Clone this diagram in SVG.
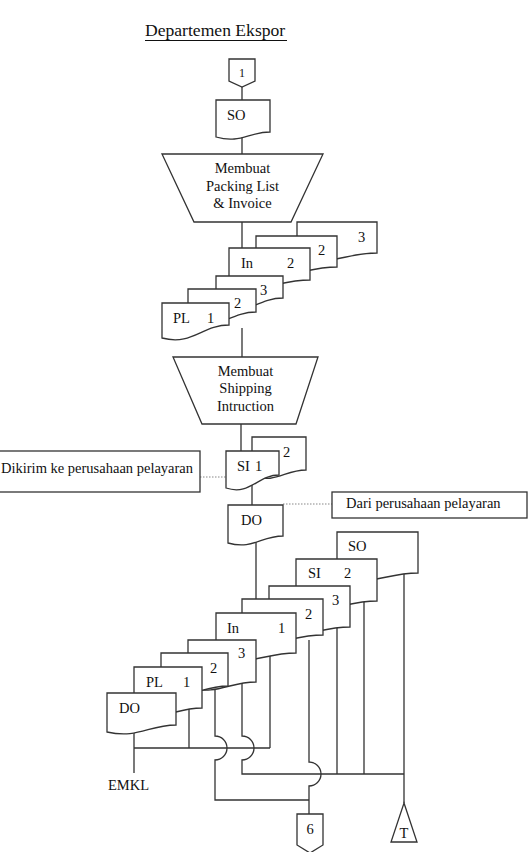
<svg xmlns="http://www.w3.org/2000/svg" width="530" height="852" viewBox="0 0 530 852">
<style>
.s{fill:#fff;stroke:#333;stroke-width:1.3}
.c{fill:none;stroke:#333;stroke-width:1.3}
.d{fill:none;stroke:#888;stroke-width:1.2;stroke-dasharray:1.5 1.5}
text{font-family:"Liberation Serif","Times New Roman",serif;font-size:14.5px;fill:#111}
.m{text-anchor:middle}
</style>
<rect width="530" height="852" fill="#fff"/>
<g id="title"><text x="145" y="36" style="font-size:17.6px">Departemen Ekspor</text><line x1="145" y1="40.5" x2="287" y2="40.5" stroke="#111" stroke-width="1"/></g>
<g id="connectors">
<path class="c" d="M242,87V100M242,137V154M242,222V248M242,328V357M241,424V451M252,485V505M256,540V599"/>
<path class="d" d="M200,477H226M283,504H332"/>
<path class="c" d="M134,730V773M134,748H270M189,705V748M270,655V748"/>
<path class="c" d="M215,690V736A12,12 0 0 1 215,760V800H309"/>
<path class="c" d="M242,680V736A12,12 0 0 1 242,760V774H404"/>
<path class="c" d="M309,640V762A12,12 0 0 1 309,786V814"/>
<path class="c" d="M337,625V774M364,598V774M404,570V803"/>
</g>
<g id="conn1"><polygon class="s" points="229,59 255,59 255,81 242,87 229,81"/><text class="m" x="242" y="77" style="font-size:12px">1</text></g>
<g id="so1"><path class="s" d="M216,100H270V132C248.4,132 240.3,144 216,137Z"/><text x="227" y="120">SO</text></g>
<g id="proc1"><polygon class="s" points="162,154 323,154 291,222 194,222"/><text class="m" x="242.5" y="173">Membuat</text><text class="m" x="242.5" y="191">Packing List</text><text class="m" x="242.5" y="208">&amp; Invoice</text></g>
<g id="in3"><path class="s" d="M297,222H377V253C345,253 333,266 297,259Z"/><text x="358" y="242">3</text></g>
<g id="in2"><path class="s" d="M256,236H337V267C304.6,267 292.5,280 256,273Z"/><text x="318" y="255">2</text></g>
<g id="in1"><path class="s" d="M229,248H310V280C277.6,280 265.5,293 229,286Z"/><text x="241" y="268">In</text><text x="287" y="268">2</text></g>
<g id="pl3"><path class="s" d="M216,276H283V298C256.2,298 246.2,318 216,310Z"/><text x="260" y="295">3</text></g>
<g id="pl2"><path class="s" d="M188,289H256V312C228.8,312 218.6,332 188,324Z"/><text x="234" y="308">2</text></g>
<g id="pl1"><path class="s" d="M162,303H229V325C202.2,325 192.2,346 162,338Z"/><text x="173" y="323">PL</text><text x="207" y="323">1</text></g>
<g id="proc2"><polygon class="s" points="173,357 318,357 296,424 202,424"/><text class="m" x="245.5" y="376">Membuat</text><text class="m" x="245.5" y="393">Shipping</text><text class="m" x="245.5" y="411">Intruction</text></g>
<g id="si2"><path class="s" d="M252,437H306V470C284.4,470 276.3,484 252,476Z"/><text x="283" y="457">2</text></g>
<g id="si1"><path class="s" d="M226,451H279V475C257.8,475 249.9,496 226,488Z"/><text x="237" y="471">SI</text><text x="255" y="471">1</text></g>
<g id="note1"><rect class="s" x="-1" y="451" width="201" height="41"/><text x="1" y="473">Dikirim ke perusahaan pelayaran</text></g>
<g id="do1"><path class="s" d="M228,505H283V536C261,536 252.8,550 228,543Z"/><text x="241" y="525">DO</text></g>
<g id="note2"><rect class="s" x="332" y="492" width="195" height="26"/><text x="346" y="508">Dari perusahaan pelayaran</text></g>
<g id="b_so"><path class="s" d="M337,532H418V573C385.6,573 373.5,586 337,579Z"/><text x="348" y="551">SO</text></g>
<g id="b_si"><path class="s" d="M296,559H377V601C344.6,601 332.5,614 296,607Z"/><text x="308" y="578">SI</text><text x="344" y="578">2</text></g>
<g id="b_in3"><path class="s" d="M269,586H350V627C317.6,627 305.5,640 269,633Z"/><text x="332" y="605">3</text></g>
<g id="b_in2"><path class="s" d="M242,599H323V635C290.6,635 278.5,648 242,641Z"/><text x="305" y="619">2</text></g>
<g id="b_in1"><path class="s" d="M216,613H296V653C264,653 252,666 216,659Z"/><text x="227" y="633">In</text><text x="278" y="633">1</text></g>
<g id="b_pl3"><path class="s" d="M188,640H256V682C228.8,682 218.6,695 188,688Z"/><text x="238" y="658">3</text></g>
<g id="b_pl2"><path class="s" d="M161,653H228V686C201.2,686 191.2,700 161,693Z"/><text x="210" y="673">2</text></g>
<g id="b_pl1"><path class="s" d="M134,667H202V708C174.8,708 164.6,721 134,714Z"/><text x="146" y="687">PL</text><text x="183" y="687">1</text></g>
<g id="b_do"><path class="s" d="M107,693H176V725C148.4,725 138.1,739 107,732Z"/><text x="119" y="713">DO</text></g>
<g id="emkl"><text x="108" y="790">EMKL</text></g>
<g id="conn6"><polygon class="s" points="297,814 323,814 323,845 310,853 297,845"/><text class="m" x="310" y="834">6</text></g>
<g id="fileT"><polygon class="s" points="404,803 417,842 391,842"/><text class="m" x="404" y="838">T</text></g>
</svg>
